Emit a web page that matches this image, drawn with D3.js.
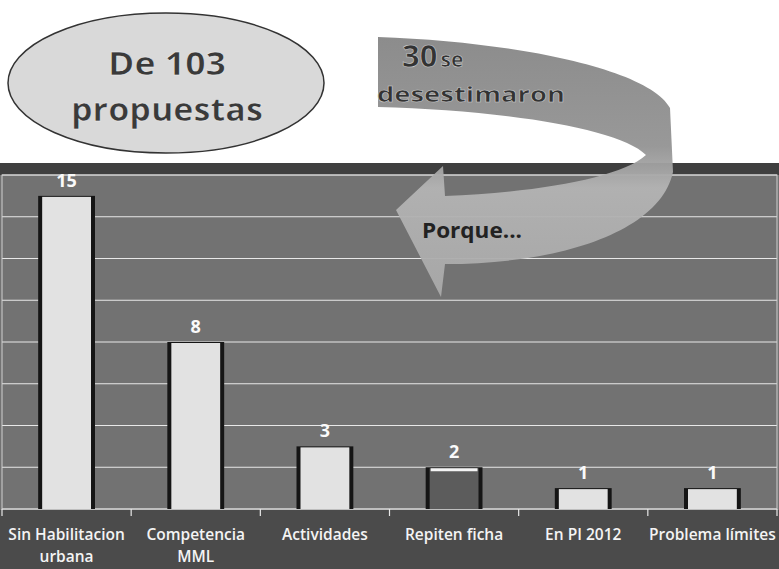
<!DOCTYPE html>
<html>
<head>
<meta charset="utf-8">
<script src="https://cdn.jsdelivr.net/npm/d3@7"></script>
<style>
  html, body { margin: 0; padding: 0; background: #fff; }
  svg { display: block; font-family: "Open Sans", "Noto Sans", sans-serif; }
</style>
</head>
<body>
<div id="chart"></div>
<script>
// datos del grafico
const categorias = [
  ["Sin Habilitacion", "urbana"],
  ["Competencia", "MML"],
  ["Actividades"],
  ["Repiten ficha"],
  ["En PI 2012"],
  ["Problema límites"]
];
const valores = [15, 8, 3, 2, 1, 1];
const ticksY = [0, 2, 4, 6, 8, 10, 12, 14, 16];
const titulo = ["De 103", "propuestas"];
const flecha = { numero: "30", resto: "se", linea2: "desestimaron", porque: "Porque..." };

const W = 779, H = 569;
const svg = d3.select("#chart").append("svg")
  .attr("width", W).attr("height", H);

// fondo de la zona del grafico
svg.append("rect").attr("x", 0).attr("y", 163).attr("width", W).attr("height", 12).attr("fill", "#3f3f3f");
svg.append("rect").attr("x", 0).attr("y", 175).attr("width", W).attr("height", 335).attr("fill", "#727272");
svg.append("rect").attr("x", 0).attr("y", 510).attr("width", W).attr("height", H - 510).attr("fill", "#4b4b4b");

const x = d3.scaleBand()
  .domain(d3.range(categorias.length))
  .range([2, 777])
  .paddingInner(0.56)
  .paddingOuter(0.28);

const y = d3.scaleLinear().domain([0, 16]).range([509, 175]);

// lineas de cuadricula
svg.append("g")
  .selectAll("line")
  .data(ticksY)
  .join("line")
  .attr("x1", 2).attr("x2", 777)
  .attr("y1", d => y(d)).attr("y2", d => y(d))
  .attr("stroke", "#e8e8e8")
  .attr("stroke-width", 1.2);

// borde del area
svg.append("rect").attr("x", 2).attr("y", 175).attr("width", 775).attr("height", 334)
  .attr("fill", "none").attr("stroke", "#d0d0d0").attr("stroke-width", 1);

// barras
const bw = x.bandwidth();
const barras = svg.append("g");
barras.selectAll("rect.borde")
  .data(valores)
  .join("rect")
  .attr("class", "borde")
  .attr("x", (d, i) => x(i))
  .attr("y", d => y(d))
  .attr("width", bw)
  .attr("height", d => y(0) - y(d))
  .attr("fill", "#151515");

barras.selectAll("rect.relleno")
  .data(valores)
  .join("rect")
  .attr("class", "relleno")
  .attr("x", (d, i) => x(i) + 4)
  .attr("y", d => y(d) + 1)
  .attr("width", bw - 8)
  .attr("height", d => y(0) - y(d) - 1)
  .attr("fill", (d, i) => i === 3 ? "#5c5c5c" : "#e2e2e2");

// brillo superior de la barra "Repiten ficha"
svg.append("rect")
  .attr("x", x(3) + 5).attr("y", y(valores[3]) + 1)
  .attr("width", bw - 10).attr("height", 3)
  .attr("fill", "#f4f4f4");

// etiquetas de valor
svg.append("g")
  .selectAll("text")
  .data(valores)
  .join("text")
  .attr("x", (d, i) => x(i) + bw / 2)
  .attr("y", d => y(d) - 9)
  .attr("text-anchor", "middle")
  .attr("font-size", 18)
  .attr("font-weight", 700)
  .attr("fill", "#fafafa")
  .text(d => d);

// marcas del eje x
const bordes = d3.range(categorias.length + 1).map(i => 2 + i * 775 / categorias.length);
svg.append("g")
  .selectAll("line")
  .data(bordes)
  .join("line")
  .attr("x1", d => d).attr("x2", d => d)
  .attr("y1", 509).attr("y2", 516)
  .attr("stroke", "#e8e8e8").attr("stroke-width", 1.2);

// etiquetas de categoria
const etiquetas = svg.append("g")
  .selectAll("text")
  .data(categorias)
  .join("text")
  .attr("x", (d, i) => x(i) + bw / 2)
  .attr("y", 540)
  .attr("text-anchor", "middle")
  .attr("font-size", 15.5)
  .attr("font-weight", 600)
  .attr("fill", "#f4f4f4");
etiquetas.selectAll("tspan")
  .data(d => d)
  .join("tspan")
  .attr("x", function () { return d3.select(this.parentNode).attr("x"); })
  .attr("dy", (d, j) => j === 0 ? 0 : 22)
  .text(d => d);

// elipse del titulo
svg.append("ellipse")
  .attr("cx", 166).attr("cy", 83).attr("rx", 158).attr("ry", 70)
  .attr("fill", "#d9d9d9").attr("stroke", "#333").attr("stroke-width", 1.5);

svg.append("g")
  .selectAll("text")
  .data(titulo)
  .join("text")
  .attr("x", 167)
  .attr("y", (d, i) => 75 + i * 46)
  .attr("text-anchor", "middle")
  .attr("font-size", 33)
  .attr("font-weight", 700)
  .attr("fill", "#3a3a3a")
  .attr("stroke", "#f0f0f0").attr("stroke-width", 0.6)
  .attr("textLength", (d, i) => i === 0 ? 118 : 192)
  .attr("lengthAdjust", "spacingAndGlyphs")
  .text(d => d);

// flecha curva
const defs = svg.append("defs");
const grad = defs.append("linearGradient").attr("id", "gflecha")
  .attr("x1", 0).attr("y1", 0).attr("x2", 0).attr("y2", 1);
grad.append("stop").attr("offset", "0").attr("stop-color", "#868686");
grad.append("stop").attr("offset", "0.42").attr("stop-color", "#939393");
grad.append("stop").attr("offset", "0.58").attr("stop-color", "#b4b4b4");
grad.append("stop").attr("offset", "1").attr("stop-color", "#a9a9a9");

const p = d3.path();
p.moveTo(378, 37);
p.bezierCurveTo(520, 42, 650, 70, 670, 108);
p.lineTo(673, 172);
p.bezierCurveTo(660, 232, 560, 264, 445, 264);
p.lineTo(441, 297);
p.lineTo(396, 210);
p.lineTo(443, 166);
p.lineTo(445, 196);
p.bezierCurveTo(540, 192, 620, 178, 646, 155);
p.bezierCurveTo(620, 128, 500, 110, 378, 107);
p.closePath();

svg.append("path")
  .attr("d", p.toString())
  .attr("fill", "url(#gflecha)")
  .attr("opacity", 0.95);

svg.append("text")
  .attr("x", 402).attr("y", 67)
  .attr("font-size", 31).attr("font-weight", 700)
  .attr("fill", "#333").attr("stroke", "#cfcfcf").attr("stroke-width", 0.6)
  .text(flecha.numero)
  .append("tspan")
  .attr("dx", 3)
  .attr("font-size", 21)
  .text(flecha.resto);

svg.append("text")
  .attr("x", 377).attr("y", 102)
  .attr("font-size", 21).attr("font-weight", 700)
  .attr("fill", "#333").attr("stroke", "#cfcfcf").attr("stroke-width", 0.5)
  .attr("textLength", 188).attr("lengthAdjust", "spacingAndGlyphs")
  .text(flecha.linea2);

svg.append("text")
  .attr("x", 422).attr("y", 238)
  .attr("font-size", 21).attr("font-weight", 700)
  .attr("fill", "#222")
  .attr("textLength", 100).attr("lengthAdjust", "spacingAndGlyphs")
  .text(flecha.porque);
</script>
</body>
</html>
